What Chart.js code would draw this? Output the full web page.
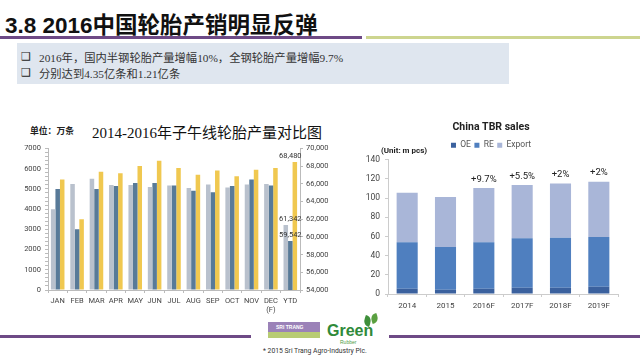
<!DOCTYPE html>
<html>
<head>
<meta charset="utf-8">
<script src="https://cdn.jsdelivr.net/npm/chart.js@4.4.1/dist/chart.umd.min.js"></script>
<style>
  body { margin: 0; width: 640px; height: 360px; position: relative; overflow: hidden; background: #fff;
         font-family: "Noto Sans CJK SC", sans-serif; }
  .abs { position: absolute; }
  #slideTitle { left: 5px; top: 7px; font: bold 22.5px "Liberation Sans", "Noto Sans CJK SC"; color: #111; white-space: nowrap; }
  #lineA { left: 0; top: 36px; width: 362px; height: 3px; background: #6e4a86; }
  #lineB { left: 366px; top: 36px; width: 274px; height: 3px; background: #cdd58f; }
  #box { left: 17px; top: 43px; width: 492px; height: 41px; background: #dfe6ef; }
  .bullet { left: 21px; font: 11px "DejaVu Sans"; color: #222; }
  .line { left: 39px; font: 11.3px "Liberation Serif", "Noto Sans CJK SC"; color: #333; white-space: nowrap; }
  #unitL { left: 30px; top: 124px; font: bold 8.8px "Noto Sans CJK SC"; color: #222; }
  #titleL { left: 92px; top: 121px; font: 15px "Liberation Serif", "Noto Sans CJK SC"; color: #111; white-space: nowrap; }
  #chartL { left: 0; top: 140px; }
  #chartR { left: 330px; top: 115px; }
  #footL { left: 0; top: 335px; width: 251px; height: 3px; background: #6e4a86; }
  #footR { left: 389px; top: 335px; width: 251px; height: 3px; background: #6e4a86; }
  #logoA { left: 268px; top: 322px; width: 52px; height: 16px; background: linear-gradient(#9b82b8 62%, #b8cc74 62%); }
  #logoA span { position: absolute; left: 8px; top: 2px; font: bold 5px "Liberation Sans"; color: #fff; }
  #green { left: 327px; top: 322px; font: bold 16px "Liberation Sans"; color: #2f8a3a; }
  #rubber { left: 340px; top: 339px; font: 5px "Liberation Sans"; color: #4c9a42; }
  #leaf1 { left: 364px; top: 316px; width: 7px; height: 10px; background: #3f8f3a; border-radius: 0 70% 0 70%; transform: rotate(20deg); }
  #leaf2 { left: 371px; top: 314px; width: 7px; height: 9px; background: #5aa040; border-radius: 70% 0 70% 0; transform: rotate(-20deg); }
  #copy { left: 263px; top: 347px; font: 6.8px Roboto; color: #333; white-space: nowrap; }
</style>
</head>
<body>
<div id="slideTitle" class="abs">3.8 2016中国轮胎产销明显反弹</div>
<div id="lineA" class="abs"></div>
<div id="lineB" class="abs"></div>
<div id="box" class="abs"></div>
<div class="abs bullet" style="top:50px">❑</div>
<div class="abs bullet" style="top:66px">❑</div>
<div class="abs line" style="top:49px">2016年，国内半钢轮胎产量增幅10%，全钢轮胎产量增幅9.7%</div>
<div class="abs line" style="top:65px">分别达到4.35亿条和1.21亿条</div>

<div id="unitL" class="abs">单位：万条</div>
<div id="titleL" class="abs">2014-2016年子午线轮胎产量对比图</div>
<canvas id="chartL" class="abs" width="345" height="180"></canvas>
<canvas id="chartR" class="abs" width="322" height="195"></canvas>

<div id="footL" class="abs"></div>
<div id="footR" class="abs"></div>
<div id="logoA" class="abs"><span>SRI TRANG</span></div>
<div id="green" class="abs">Green</div>
<div id="rubber" class="abs">Rubber</div>
<div id="leaf1" class="abs"></div>
<div id="leaf2" class="abs"></div>
<div id="copy" class="abs">* 2015 Sri Trang Agro-Industry Plc.</div>

<script>
// left chart: monthly radial tyre output (10k pcs), YTD on right axis
const months = ["JAN", "FEB", "MAR", "APR", "MAY", "JUN", "JUL", "AUG", "SEP", "OCT", "NOV", ["DEC", "(F)"], "YTD"];
const years = ["2014", "2015", "2016"];
const monthly2014 = [4000, 5250, 5500, 5200, 5200, 5100, 5170, 5040, 5220, 5070, 5220, 5240];
const monthly2015 = [5000, 3000, 5000, 5140, 5290, 5290, 5170, 4910, 4830, 5140, 5470, 5170];
const monthly2016 = [5470, 3500, 5850, 5780, 6140, 6400, 6030, 5700, 5910, 5630, 5950, 6030];
const ytdTotals = [61342, 59542, 68480];

// right chart: China TBR sales (m pcs)
const tbrYears = ["2014", "2015", "2016F", "2017F", "2018F", "2019F"];
const oeSales = [5.5, 4.5, 5.5, 6.5, 6.5, 7.5];
const reSales = [48.5, 44.5, 48.5, 51.5, 52, 52];
const exportSales = [51.5, 52, 56.5, 55.5, 56.5, 57.5];
const growthLabels = ["", "", "+9.7%", "+5.5%", "+2%", "+2%"];

const colorsL = ["#b9c1cd", "#587a98", "#f0c850"];
const tickFont = { family: "Roboto", size: 7.5 };

const monthlySeries = [monthly2014, monthly2015, monthly2016];
const leftSets = monthlySeries.map((arr, i) => ({
  label: years[i],
  data: [...arr, null],
  backgroundColor: colorsL[i],
  yAxisID: "y",
  skipNull: true
}));
const ytdSets = ytdTotals.map((v, i) => ({
  label: years[i] + " YTD",
  data: [...Array(monthly2014.length).fill(null), v],
  backgroundColor: colorsL[i],
  yAxisID: "y1",
  skipNull: true
}));

const ytdLabels = {
  id: "ytdLabels",
  afterDatasetsDraw(chart) {
    const c = chart.ctx;
    const xs = chart.scales.x;
    c.save();
    c.font = "7.5px Roboto";
    c.fillStyle = "#333";
    c.textAlign = "center";
    c.textBaseline = "bottom";
    ytdSets.forEach((ds, i) => {
      const meta = chart.getDatasetMeta(leftSets.length + i);
      const idx = ds.data.length - 1;
      const bar = meta.data[idx];
      c.fillText(ds.data[idx].toLocaleString("en-US"), xs.getPixelForValue(idx), bar.y - 2);
    });
    c.restore();
  }
};

new Chart(document.getElementById("chartL"), {
  type: "bar",
  data: { labels: months, datasets: [...leftSets, ...ytdSets] },
  options: {
    responsive: false,
    animation: false,
    layout: { padding: { top: 8 } },
    datasets: { bar: { categoryPercentage: 0.7, barPercentage: 1 } },
    plugins: { legend: { display: false }, tooltip: { enabled: false } },
    scales: {
      x: {
        grid: { drawOnChartArea: false, offset: true, tickLength: 3, color: "#bbb" },
        border: { color: "#bbb" },
        ticks: { font: tickFont, color: "#444", maxRotation: 0, autoSkip: false, padding: 4 },
        afterFit: s => { s.height = 30; }
      },
      y: {
        min: 0, max: 7000,
        grid: { drawOnChartArea: false, tickLength: 3, color: "#bbb" },
        border: { color: "#bbb" },
        ticks: {
          stepSize: 200, autoSkip: false, font: tickFont, color: "#444", padding: 4,
          callback: v => (Math.round(v) % 1000 === 0 ? Math.round(v) : "")
        },
        afterFit: s => { s.width = 48; }
      },
      y1: {
        position: "right",
        min: 54000, max: 70000,
        grid: { drawOnChartArea: false, tickLength: 3, color: "#bbb" },
        border: { color: "#bbb" },
        ticks: { stepSize: 2000, font: tickFont, color: "#444", padding: 3,
                 callback: v => v.toLocaleString("en-US") },
        afterFit: s => { s.width = 45; }
      }
    }
  },
  plugins: [ytdLabels]
});

const growthAndUnit = {
  id: "growthAndUnit",
  afterDatasetsDraw(chart) {
    const c = chart.ctx;
    const top = chart.getDatasetMeta(2);
    c.save();
    c.font = "9.5px Roboto";
    c.fillStyle = "#222";
    c.textAlign = "center";
    c.textBaseline = "bottom";
    growthLabels.forEach((t, i) => {
      if (t) c.fillText(t, top.data[i].x, top.data[i].y - 4);
    });
    c.font = "bold 8px Roboto";
    c.textAlign = "left";
    c.textBaseline = "middle";
    c.fillText("(Unit: m pcs)", chart.chartArea.left - 7, chart.chartArea.top - 9);
    c.restore();
  }
};

new Chart(document.getElementById("chartR"), {
  type: "bar",
  data: {
    labels: tbrYears,
    datasets: [
      { label: "OE", data: oeSales, backgroundColor: "#3b619e" },
      { label: "RE", data: reSales, backgroundColor: "#4f7fbf" },
      { label: "Export", data: exportSales, backgroundColor: "#a9b6d8" }
    ]
  },
  options: {
    responsive: false,
    animation: false,
    layout: { padding: { left: 34, right: 34 } },
    datasets: { bar: { categoryPercentage: 0.55, barPercentage: 1 } },
    plugins: {
      tooltip: { enabled: false },
      title: { display: true, text: "China TBR sales", color: "#222",
               font: { family: "Roboto", size: 10.5, weight: "bold" }, padding: { top: 6, bottom: 4 } },
      legend: {
        labels: { boxWidth: 5, boxHeight: 5, padding: 3.5, color: "#555", font: { family: "Roboto", size: 8.5 } }
      }
    },
    scales: {
      x: {
        stacked: true,
        grid: { drawOnChartArea: false, offset: true, tickLength: 3, color: "#ccc" },
        border: { color: "#ccc" },
        ticks: { font: { family: "Roboto", size: 8 }, color: "#444", padding: 4 },
        afterFit: s => { s.height = 16; }
      },
      y: {
        stacked: true,
        min: 0, max: 140,
        grid: { drawOnChartArea: false, tickLength: 3, color: "#ccc" },
        border: { color: "#ccc" },
        ticks: { stepSize: 20, font: { family: "Roboto", size: 8.5 }, color: "#444", padding: 5 },
        afterFit: s => { s.width = 24; }
      }
    }
  },
  plugins: [growthAndUnit]
});
</script>
</body>
</html>
